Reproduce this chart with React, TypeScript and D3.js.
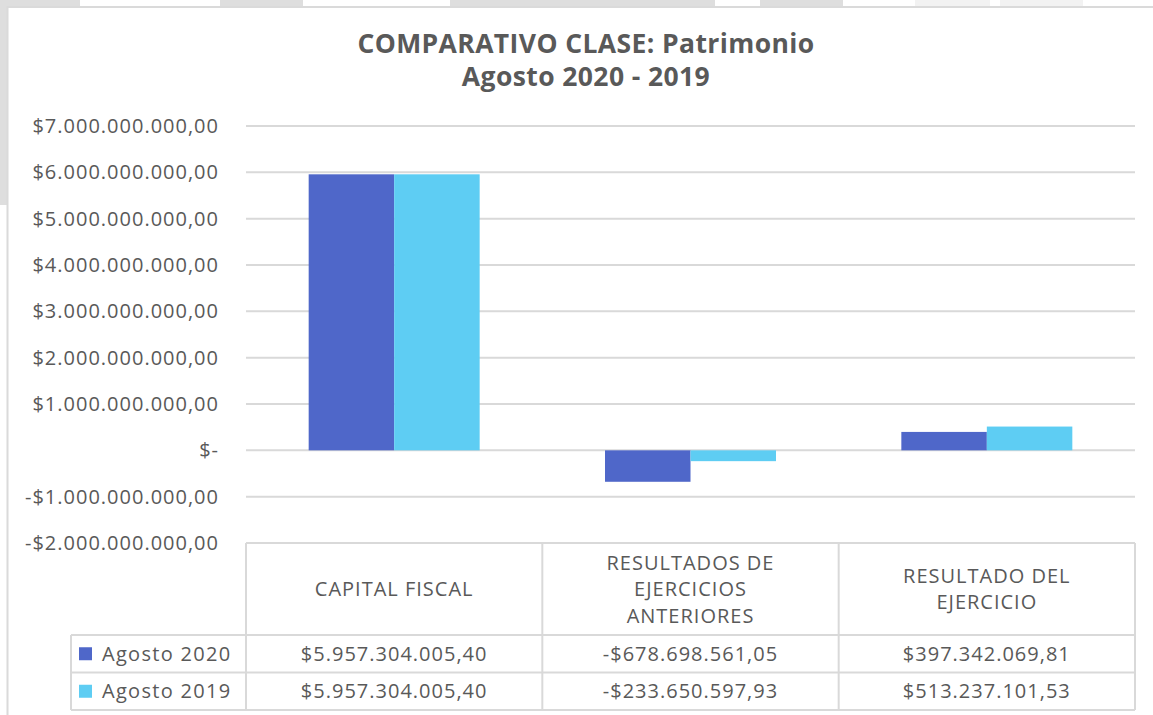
import React from "react";
import * as d3 from "d3";

const categories = ["CAPITAL FISCAL", "RESULTADOS DE EJERCICIOS ANTERIORES", "RESULTADO DEL EJERCICIO"];
const categoryLabelLines = [["CAPITAL FISCAL"], ["RESULTADOS DE", "EJERCICIOS", "ANTERIORES"], ["RESULTADO DEL", "EJERCICIO"]];
const seriesNames = ["Agosto 2020", "Agosto 2019"];
const agosto2020 = [5957304005.4, -678698561.05, 397342069.81];
const agosto2019 = [5957304005.4, -233650597.93, 513237101.53];
const yTicks = [7e9, 6e9, 5e9, 4e9, 3e9, 2e9, 1e9, 0, -1e9, -2e9];
const titleLines = ["COMPARATIVO CLASE: Patrimonio", "Agosto 2020 - 2019"];

const seriesColors = ["#4F67C9", "#5ECDF3"];
const textColor = "#595959";
const gridColor = "#D9D9D9";
const FONT = "'Open Sans', sans-serif";
const FS = 20;
const LS = 1;

const locale = d3.formatLocale({
  decimal: ",",
  thousands: ".",
  grouping: [3],
  currency: ["$", ""],
  minus: "-",
});
const fmt = locale.format("$,.2f");
const tickFmt = (v: number) => (v === 0 ? "$-" : fmt(v));

export default function App() {
  const W = 1153, H = 715;
  const plotLeft = 246, plotRight = 1135;
  const y = d3.scaleLinear().domain([-2e9, 7e9]).range([543, 126]);
  const x0 = d3.scaleBand<string>().domain(categories).range([plotLeft, plotRight]).paddingInner(0.423).paddingOuter(0.2115);
  const x1 = d3.scaleBand<string>().domain(seriesNames).range([0, x0.bandwidth()]);
  const step = x0.step();
  const colEdges = categories.map((_, i) => plotLeft + i * step);
  const seriesData = [agosto2020, agosto2019];

  const tableTop = y(-2e9);
  const headerBottom = 635;
  const rowH = 37.5;
  const legendLeft = 71;

  return (
    <svg width={W} height={H} style={{ position: "absolute", left: 0, top: 0, background: "#fff" }} fontFamily={FONT}>
      {/* surrounding frame remnants */}
      {[[0, 80], [220, 303], [450, 715], [760, 843]].map(([a, b], i) => (
        <rect key={"g" + i} x={a} y={0} width={b - a} height={6} fill="#DEDEDE" />
      ))}
      {[[915, 990], [1000, 1083]].map(([a, b], i) => (
        <rect key={"l" + i} x={a} y={0} width={b - a} height={6} fill="#F2F2F2" />
      ))}
      <rect x={0} y={0} width={7} height={205} fill="#DEDEDE" />
      <line x1={7.5} x2={7.5} y1={6} y2={H} stroke="#DADADA" strokeWidth={2} />
      <line x1={7} x2={W} y1={7} y2={7} stroke="#DADADA" strokeWidth={2} />

      {/* title */}
      {titleLines.map((t, i) => (
        <text key={t} x={586} y={53 + i * 33} textAnchor="middle" fontSize={26.5} letterSpacing={0.4} fontWeight={700} fill={textColor}>
          {t}
        </text>
      ))}

      {/* gridlines and y labels */}
      {yTicks.map((v) => (
        <g key={v}>
          {v !== -2e9 && (
            <line x1={plotLeft} x2={plotRight} y1={y(v)} y2={y(v)} stroke={gridColor} strokeWidth={2} />
          )}
          <text x={219} y={y(v)} dy="0.35em" textAnchor="end" fontSize={FS} letterSpacing={LS} fill={textColor}>
            {tickFmt(v)}
          </text>
        </g>
      ))}

      {/* bars */}
      {categories.map((c, ci) => (
        <g key={c}>
          {seriesNames.map((s, si) => {
            const v = seriesData[si][ci];
            const yTop = y(Math.max(0, v));
            const yBot = y(Math.min(0, v));
            return (
              <rect key={s} x={(x0(c) as number) + (x1(s) as number)} y={yTop} width={x1.bandwidth()} height={yBot - yTop} fill={seriesColors[si]} />
            );
          })}
        </g>
      ))}

      {/* data table */}
      <g stroke={gridColor} strokeWidth={2} fill="none">
        <line x1={plotLeft} x2={plotRight} y1={tableTop} y2={tableTop} />
        <line x1={legendLeft} x2={plotRight} y1={headerBottom} y2={headerBottom} />
        <line x1={legendLeft} x2={plotRight} y1={headerBottom + rowH} y2={headerBottom + rowH} />
        <line x1={legendLeft} x2={plotRight} y1={headerBottom + 2 * rowH} y2={headerBottom + 2 * rowH} />
        <line x1={legendLeft} x2={legendLeft} y1={headerBottom} y2={headerBottom + 2 * rowH} />
        {[...colEdges, plotRight].map((xe, i) => (
          <line key={i} x1={xe} x2={xe} y1={tableTop} y2={headerBottom + 2 * rowH} />
        ))}
      </g>

      {categoryLabelLines.map((lines, ci) => {
        const cx = colEdges[ci] + step / 2;
        const lh = 26.5;
        const midY = (tableTop + headerBottom) / 2;
        const startY = midY - ((lines.length - 1) * lh) / 2;
        return (
          <g key={ci}>
            {lines.map((l, li) => (
              <text key={li} x={cx} y={startY + li * lh} dy="0.35em" textAnchor="middle" fontSize={FS} letterSpacing={LS} fill={textColor}>
                {l}
              </text>
            ))}
          </g>
        );
      })}

      {seriesNames.map((s, si) => {
        const cy = headerBottom + rowH * si + rowH / 2;
        return (
          <g key={s}>
            <rect x={79} y={cy - 6.5} width={13} height={13} fill={seriesColors[si]} />
            <text x={102} y={cy} dy="0.35em" fontSize={FS} letterSpacing={LS + 0.3} fill={textColor}>
              {s}
            </text>
            {seriesData[si].map((v, ci) => (
              <text key={ci} x={colEdges[ci] + step / 2} y={cy} dy="0.35em" textAnchor="middle" fontSize={FS} letterSpacing={LS} fill={textColor}>
                {fmt(v)}
              </text>
            ))}
          </g>
        );
      })}
    </svg>
  );
}
